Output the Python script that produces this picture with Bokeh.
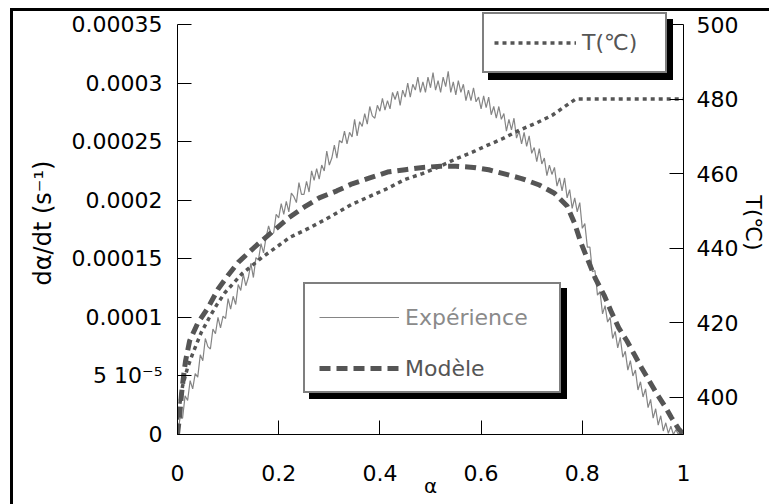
from bokeh.plotting import figure
from bokeh.models import (Range1d, LinearAxis, FixedTicker, CustomJSTickFormatter,
                          Legend, LegendItem, ColumnDataSource)
from bokeh.core.properties import value
from bokeh.embed import file_html
from bokeh.resources import INLINE

# ---------------- data ----------------
# experimental curve (dα/dt in units of 1e-6 s^-1), sampled every 0.005 in α
alpha_exp = [
    0, 0.005, 0.01, 0.015, 0.02, 0.025, 0.03, 0.035, 0.04, 0.045,
    0.05, 0.055, 0.06, 0.065, 0.07, 0.075, 0.08, 0.085, 0.09, 0.095,
    0.1, 0.105, 0.11, 0.115, 0.12, 0.125, 0.13, 0.135, 0.14, 0.145,
    0.15, 0.155, 0.16, 0.165, 0.17, 0.175, 0.18, 0.185, 0.19, 0.195,
    0.2, 0.205, 0.21, 0.215, 0.22, 0.225, 0.23, 0.235, 0.24, 0.245,
    0.25, 0.255, 0.26, 0.265, 0.27, 0.275, 0.28, 0.285, 0.29, 0.295,
    0.3, 0.305, 0.31, 0.315, 0.32, 0.325, 0.33, 0.335, 0.34, 0.345,
    0.35, 0.355, 0.36, 0.365, 0.37, 0.375, 0.38, 0.385, 0.39, 0.395,
    0.4, 0.405, 0.41, 0.415, 0.42, 0.425, 0.43, 0.435, 0.44, 0.445,
    0.45, 0.455, 0.46, 0.465, 0.47, 0.475, 0.48, 0.485, 0.49, 0.495,
    0.5, 0.505, 0.51, 0.515, 0.52, 0.525, 0.53, 0.535, 0.54, 0.545,
    0.55, 0.555, 0.56, 0.565, 0.57, 0.575, 0.58, 0.585, 0.59, 0.595,
    0.6, 0.605, 0.61, 0.615, 0.62, 0.625, 0.63, 0.635, 0.64, 0.645,
    0.65, 0.655, 0.66, 0.665, 0.67, 0.675, 0.68, 0.685, 0.69, 0.695,
    0.7, 0.705, 0.71, 0.715, 0.72, 0.725, 0.73, 0.735, 0.74, 0.745,
    0.75, 0.755, 0.76, 0.765, 0.77, 0.775, 0.78, 0.785, 0.79, 0.795,
    0.8, 0.805, 0.81, 0.815, 0.82, 0.825, 0.83, 0.835, 0.84, 0.845,
    0.85, 0.855, 0.86, 0.865, 0.87, 0.875, 0.88, 0.885, 0.89, 0.895,
    0.9, 0.905, 0.91, 0.915, 0.92, 0.925, 0.93, 0.935, 0.94, 0.945,
    0.95, 0.955, 0.96, 0.965, 0.97, 0.975, 0.98, 0.985, 0.99, 0.995,
    1.0,
]
rate_exp_micro = [
    0, 14, 14, 33, 29, 46, 39, 52, 49, 68,
    63, 82, 75, 73, 90, 86, 100, 91, 101, 99,
    116, 107, 118, 111, 128, 123, 137, 127, 134, 146,
    134, 151, 149, 163, 155, 168, 178, 171, 172, 188,
    185, 197, 188, 199, 190, 206, 203, 198, 215, 205,
    205, 216, 207, 225, 217, 227, 218, 230, 225, 242,
    230, 236, 247, 236, 251, 249, 259, 248, 258, 254,
    269, 255, 267, 263, 274, 265, 280, 272, 270, 281,
    276, 287, 277, 285, 278, 292, 286, 293, 281, 294,
    288, 300, 288, 299, 294, 305, 292, 301, 292, 305,
    296, 309, 294, 302, 292, 305, 297, 310, 292, 301,
    290, 302, 292, 299, 285, 294, 285, 296, 284, 288,
    278, 289, 279, 288, 273, 280, 270, 280, 269, 274,
    259, 269, 260, 270, 253, 259, 248, 258, 246, 255,
    240, 245, 233, 244, 231, 236, 221, 230, 222, 228,
    212, 219, 208, 219, 202, 209, 193, 202, 190, 198,
    176, 180, 160, 160, 139, 140, 119, 122, 103, 110,
    96, 100, 82, 88, 74, 83, 66, 71, 55, 63,
    50, 55, 38, 45, 32, 39, 23, 30, 14, 22,
    8, 16, 3, 10, 1, 7, 0, 4, 0, 2,
    0,
]

# model curve (dα/dt in units of 1e-4 s^-1)
alpha_model = [0, 0.004, 0.008, 0.012, 0.016, 0.024, 0.04, 0.06, 0.08, 0.1,
               0.12, 0.14, 0.16, 0.19, 0.22, 0.25, 0.28, 0.315, 0.345, 0.38,
               0.415, 0.45, 0.485, 0.52, 0.55, 0.585, 0.615, 0.65, 0.68, 0.715,
               0.745, 0.77, 0.785, 0.797, 0.81, 0.826, 0.843, 0.858, 0.872, 0.888,
               0.902, 0.917, 0.932, 0.947, 0.965, 0.976, 0.99, 1.0]
rate_model_e4 = [0, 0.15, 0.35, 0.5, 0.63, 0.8, 0.95, 1.08, 1.24, 1.36,
                 1.47, 1.55, 1.63, 1.74, 1.85, 1.94, 2.02, 2.08, 2.14, 2.19,
                 2.24, 2.26, 2.28, 2.29, 2.29, 2.28, 2.26, 2.22, 2.185, 2.13,
                 2.06, 1.95, 1.80, 1.64, 1.50, 1.33, 1.19, 1.04, 0.91, 0.80,
                 0.69, 0.57, 0.46, 0.35, 0.23, 0.145, 0.05, 0]

# temperature (°C, right axis)
alpha_temp = [0, 0.01, 0.02, 0.03, 0.047, 0.063, 0.079, 0.094, 0.128, 0.167,
              0.2, 0.222, 0.262, 0.307, 0.344, 0.38, 0.415, 0.449, 0.484, 0.518,
              0.551, 0.587, 0.606, 0.64, 0.675, 0.711, 0.74, 0.774, 0.787, 1.0]
temp_c = [394, 403, 408, 411.7, 417.4, 421.4, 425.1, 428.1, 433.2, 437.5,
          440.7, 442.9, 445.5, 448.8, 451.7, 453.9, 456.0, 458.4, 460.0, 461.9,
          464.0, 466.0, 467.2, 469.2, 471.6, 473.7, 475.6, 478.8, 480, 480]

# axis ticks and labels
x_ticks = [0, 0.2, 0.4, 0.6, 0.8, 1.0]
x_tick_labels = ["0", "0.2", "0.4", "0.6", "0.8", "1"]
y_ticks = [0, 0.00005, 0.0001, 0.00015, 0.0002, 0.00025, 0.0003, 0.00035]
y_tick_labels = ["0", "5 10\u207b\u2075", "0.0001", "0.00015", "0.0002",
                 "0.00025", "0.0003", "0.00035"]
t_ticks = [400, 420, 440, 460, 480, 500]
t_tick_labels = ["400", "420", "440", "460", "480", "500"]
y_min, y_max = 0, 0.00035
t_min, t_max = 390, 500

FONT = "DejaVu Sans"

# ---------------- layout ----------------
# the plot frame reaches 13px above the top tick so the upper legend is not clipped
FRAME_H, AXIS_H = 423, 410
pad = FRAME_H / AXIS_H

# outer frame of the figure (left and top edges), painted behind a transparent canvas border
frame_css = ("linear-gradient(#fff, #fff) 0 0 / 10px 100% no-repeat, "
             "linear-gradient(#000, #000) 0 8px / 100% 3px no-repeat, "
             "linear-gradient(#000, #000) 10px 8px / 3px 100% no-repeat, #fff")

p = figure(width=769, height=504,
           x_range=Range1d(0, 1), y_range=Range1d(y_min, y_min + (y_max - y_min) * pad),
           output_backend="svg", toolbar_location=None,
           min_border_left=177, min_border_right=84,
           min_border_top=11, min_border_bottom=70,
           styles={"background": frame_css})
p.outline_line_color = None
p.grid.visible = False
p.background_fill_color = "white"
p.border_fill_color = "white"
p.border_fill_alpha = 0
p.extra_y_ranges = {"temp": Range1d(t_min, t_min + (t_max - t_min) * pad)}

src_exp = ColumnDataSource(dict(a=alpha_exp, r=[v * 1e-6 for v in rate_exp_micro]))
src_mod = ColumnDataSource(dict(a=alpha_model, r=[v * 1e-4 for v in rate_model_e4]))
src_tmp = ColumnDataSource(dict(a=alpha_temp, t=temp_c))

r_exp = p.line("a", "r", source=src_exp, line_color="#858585", line_width=1.2)
r_tmp = p.line("a", "t", source=src_tmp, y_range_name="temp", line_color="#555555",
               line_width=3.5, line_dash="4 4")
r_mod = p.line("a", "r", source=src_mod, line_color="#555555", line_width=5,
               line_dash="11 6")
# invisible renderer used only by the legend boxes
r_none = p.line(x=[], y=[], line_alpha=0)


def fmt(tick_vals, tick_labs):
    return CustomJSTickFormatter(args=dict(vals=tick_vals, labs=tick_labs), code="""
        let best = 0;
        for (let i = 0; i < vals.length; i++) {
            if (Math.abs(vals[i] - tick) < Math.abs(vals[best] - tick)) { best = i; }
        }
        return labs[best];
    """)


def style_axis(ax, standoff):
    ax.major_tick_in = 14
    ax.major_tick_out = 0
    ax.minor_tick_line_color = None
    ax.axis_line_color = "black"
    ax.major_tick_line_color = "black"
    ax.major_label_text_font = FONT
    ax.major_label_text_font_size = "22px"
    ax.major_label_text_color = "black"
    ax.major_label_standoff = standoff
    ax.axis_label_text_font = FONT
    ax.axis_label_text_font_size = "22px"
    ax.axis_label_text_font_style = "normal"
    ax.axis_label_text_color = "black"


xa = p.xaxis[0]
style_axis(xa, 30)
xa.ticker = FixedTicker(ticks=x_ticks)
xa.formatter = fmt(x_ticks, x_tick_labels)
xa.axis_label = "\u03b1"
xa.axis_label_text_font_size = "20px"
xa.axis_label_standoff = -10

ya = p.yaxis[0]
style_axis(ya, 15)
ya.ticker = FixedTicker(ticks=y_ticks)
ya.formatter = fmt(y_ticks, y_tick_labels)
ya.bounds = (y_min, y_max)
ya.axis_label = "d\u03b1/dt (s\u207b\u00b9)"
ya.axis_label_text_font_size = "24px"
ya.axis_label_standoff = 12

ra = LinearAxis(y_range_name="temp")
style_axis(ra, 13)
ra.ticker = FixedTicker(ticks=t_ticks)
ra.formatter = fmt(t_ticks, t_tick_labels)
ra.bounds = (t_min, t_max)
ra.axis_label = "T(\u2103)"
ra.axis_label_standoff = 0
p.add_layout(ra, "right")


# ---------------- legends ----------------
def make_legend(items, loc, fill, border, text_color, glyph_w, label_w, item_h, spacing=0):
    return Legend(items=items, location=loc, orientation="vertical",
                  background_fill_color=fill if fill else "white",
                  background_fill_alpha=1 if fill else 0,
                  border_line_color=border, border_line_width=2,
                  label_text_font=FONT, label_text_font_size="22px",
                  label_text_color=text_color,
                  glyph_width=glyph_w, glyph_height=item_h,
                  label_width=label_w, label_height=item_h,
                  label_standoff=6, padding=10, spacing=spacing, margin=0)


# legend with Expérience / Modèle: shadow, box, then the two rows
box_items = [LegendItem(label=value(" "), renderers=[r_none]),
             LegendItem(label=value(" "), renderers=[r_none])]
p.add_layout(make_legend(box_items, (132, 35), "black", "black", "black", 84, 144, 38, 11))
p.add_layout(make_legend(box_items, (126, 41), "white", "black", "black", 84, 144, 38, 11))
p.add_layout(make_legend([LegendItem(label=value("Exp\u00e9rience"), renderers=[r_exp])],
                         (142, 98), None, None, "#8a8a8a", 80, 140, 38))
p.add_layout(make_legend([LegendItem(label=value("Mod\u00e8le"), renderers=[r_mod])],
                         (142, 47), None, None, "#555555", 80, 140, 38))

# legend with T(°C): shadow, then box
p.add_layout(make_legend([LegendItem(label=value(" "), renderers=[r_none])],
                         (311, 354), "black", "black", "black", 82, 73, 37))
p.add_layout(make_legend([LegendItem(label=value("T(\u2103)"), renderers=[r_tmp])],
                         (305, 361), "white", "black", "#555555", 82, 73, 37))

open("out.html", "w").write(file_html(p, INLINE))
